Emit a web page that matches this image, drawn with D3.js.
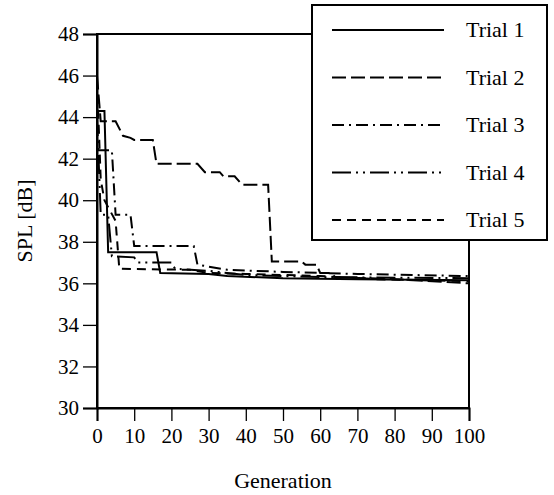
<!DOCTYPE html>
<html>
<head>
<meta charset="utf-8">
<script src="https://cdn.jsdelivr.net/npm/d3@7"></script>
<style>
  body { margin: 0; background: #fff; }
  text { font-family: "Liberation Serif", "Times New Roman", serif; fill: #000; }
</style>
</head>
<body>
<script>
// series data: [generation, SPL dB]
var trial1 = [[0,44.3],[2,44.3],[3,37.5],[16,37.5],[17,36.5],[30,36.45],[35,36.35],[50,36.25],[70,36.2],[100,36.15]];
var trial2 = [[0,46.0],[1,43.8],[5,43.8],[7,43.1],[9,43.0],[10,42.9],[15,42.9],[16,41.75],[27,41.75],[29,41.35],[33,41.35],[34,41.15],[37,41.15],[39,40.75],[46,40.75],[47,37.05],[55,37.05],[56,36.9],[59,36.9],[60,36.5],[63,36.5],[64,36.3],[80,36.2],[100,36.0]];
var trial3 = [[0,42.4],[4,42.4],[5,39.3],[9,39.3],[10,37.8],[26,37.8],[27,36.9],[35,36.65],[50,36.55],[70,36.45],[100,36.35]];
var trial4 = [[0,44.0],[1,39.3],[3,39.3],[4,37.3],[10,37.25],[11,37.0],[20,37.0],[21,36.7],[30,36.6],[40,36.4],[60,36.3],[100,36.25]];
var trial5 = [[0,45.8],[1,41.0],[2,40.0],[5,39.0],[6,36.7],[25,36.65],[30,36.5],[40,36.45],[60,36.35],[75,36.2],[100,36.1]];

var names = ["Trial 1", "Trial 2", "Trial 3", "Trial 4", "Trial 5"];
var series = [trial1, trial2, trial3, trial4, trial5];
var dashes = ["none", "14,5", "12,5,2,5", "19,5,2,5,2,5", "9,6"];

var xTicks = [0,10,20,30,40,50,60,70,80,90,100];
var yTicks = [30,32,34,36,38,40,42,44,46,48];

var margin = {top: 34, right: 85, bottom: 87, left: 97},
    width = 554 - margin.left - margin.right,
    height = 495 - margin.top - margin.bottom;

var svg = d3.select("body").append("svg")
    .attr("width", 554)
    .attr("height", 495)
  .append("g")
    .attr("transform", "translate(" + margin.left + "," + margin.top + ")");

var x = d3.scaleLinear().domain([0, 100]).range([0, width]);
var y = d3.scaleLinear().domain([30, 48]).range([height, 0]);

// plot frame
svg.append("rect")
    .attr("width", width)
    .attr("height", height)
    .attr("fill", "none")
    .attr("stroke", "#000")
    .attr("stroke-width", 2);

// axes
var xAxis = svg.append("g")
    .attr("transform", "translate(0," + height + ")")
    .call(d3.axisBottom(x).tickValues(xTicks).tickSize(13).tickPadding(7));
var yAxis = svg.append("g")
    .call(d3.axisLeft(y).tickValues(yTicks).tickSize(14).tickPadding(4));

[xAxis, yAxis].forEach(function(a) {
  a.select(".domain").attr("stroke-width", 2);
  a.selectAll(".tick line").attr("stroke-width", 1.3);
  a.selectAll("text").style("font-size", "21px")
      .style("font-family", "Liberation Serif, serif");
});

// lines
var line = d3.line()
    .x(function(d) { return x(d[0]); })
    .y(function(d) { return y(d[1]); });

svg.selectAll("path.trial")
    .data(series)
  .enter().append("path")
    .attr("class", "trial")
    .attr("d", line)
    .attr("fill", "none")
    .attr("stroke", "#000")
    .attr("stroke-width", 2)
    .attr("stroke-dasharray", function(d, i) { return dashes[i]; });

// axis titles
svg.append("text")
    .attr("x", width / 2)
    .attr("y", height + 80)
    .attr("text-anchor", "middle")
    .style("font-size", "22px")
    .text("Generation");

svg.append("text")
    .attr("transform", "translate(" + (-65) + "," + (height / 2) + ") rotate(-90)")
    .attr("text-anchor", "middle")
    .style("font-size", "22px")
    .text("SPL [dB]");

// legend box, sits over the plot
var legend = d3.select("svg").append("g");
legend.append("rect")
    .attr("x", 312)
    .attr("y", 5)
    .attr("width", 235)
    .attr("height", 235)
    .attr("fill", "#fff")
    .attr("stroke", "#000")
    .attr("stroke-width", 2);

var item = legend.selectAll("g.item")
    .data(names)
  .enter().append("g")
    .attr("class", "item")
    .attr("transform", function(d, i) { return "translate(0," + (30 + i * 47.5) + ")"; });

item.append("line")
    .attr("x1", 332)
    .attr("x2", 444)
    .attr("stroke", "#000")
    .attr("stroke-width", 2)
    .attr("stroke-dasharray", function(d, i) { return dashes[i]; });

item.append("text")
    .attr("x", 466)
    .attr("y", 7)
    .style("font-size", "22px")
    .text(function(d) { return d; });
</script>
</body>
</html>
